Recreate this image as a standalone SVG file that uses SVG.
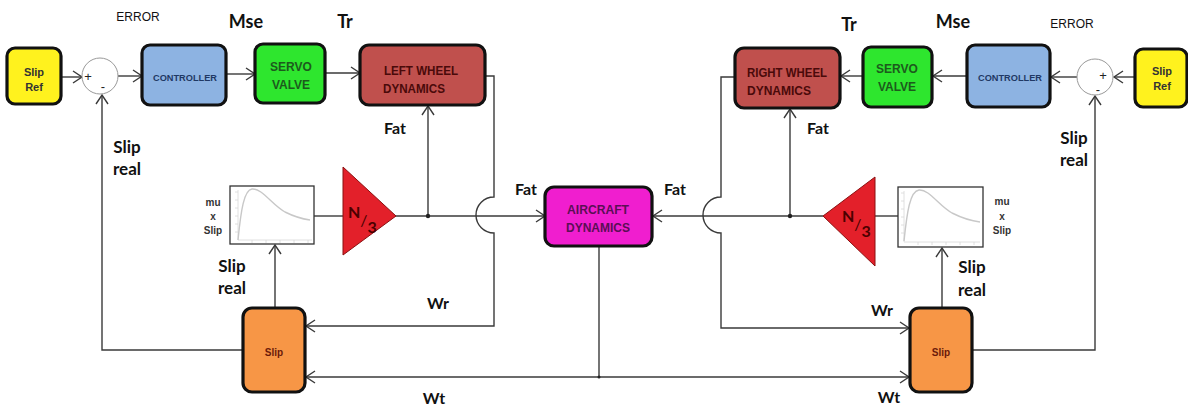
<svg xmlns="http://www.w3.org/2000/svg" width="1188" height="409" viewBox="0 0 1188 409">
<defs>
<style>
.blk{stroke:#111;stroke-width:3.2}
.ln{fill:none;stroke:#3a3a3a;stroke-width:1.4}
.lbl{font-family:Lato,"Open Sans","Liberation Sans",sans-serif;font-weight:bold;fill:#111}
.bt{font-family:"Liberation Sans",Arial,sans-serif;font-weight:bold;text-anchor:middle}
.tri{fill:#E3202A;stroke:#8a1010;stroke-width:1}
.nt{font-family:Lato,"Liberation Sans",sans-serif;font-weight:bold;fill:#4a0000}
.plot{fill:#fff;stroke:#333;stroke-width:1.3}
.curve{fill:none;stroke:#c8c8c8;stroke-width:1.4}
.ax{fill:none;stroke:#d8d8d8;stroke-width:0.8}
.dot{fill:#222}
</style>
<marker id="ar" markerUnits="userSpaceOnUse" markerWidth="12" markerHeight="14" refX="10" refY="7" orient="auto">
<path d="M1,1 L10,7 L1,13" fill="none" stroke="#3a3a3a" stroke-width="1.4"/>
</marker>
</defs>
<rect width="1188" height="409" fill="#fff"/>

<g id="connectors">
<path class="ln" d="M61,77 H82" marker-end="url(#ar)"/>
<path class="ln" d="M118,76 H142" marker-end="url(#ar)"/>
<path class="ln" d="M226,74 H255" marker-end="url(#ar)"/>
<path class="ln" d="M325,73 H360" marker-end="url(#ar)"/>
<path class="ln" d="M485,76 H494 V197 A18,18 0 0 0 494,233 V326 H306" marker-end="url(#ar)"/>
<path class="ln" d="M314,216 H343"/>
<path class="ln" d="M395,216 H545" marker-end="url(#ar)"/>
<path class="ln" d="M428,216 V106" marker-end="url(#ar)"/>
<path class="ln" d="M275,308 V245" marker-end="url(#ar)"/>
<path class="ln" d="M243,350 H102 V95" marker-end="url(#ar)"/>
<path class="ln" d="M599,246 V377"/>
<path class="ln" d="M599,377 H306" marker-end="url(#ar)"/>
<path class="ln" d="M599,377 H909" marker-end="url(#ar)"/>
<path class="ln" d="M823,216 H653" marker-end="url(#ar)"/>
<path class="ln" d="M875,216 H898"/>
<path class="ln" d="M790,216 V109" marker-end="url(#ar)"/>
<path class="ln" d="M735,77 H721 V197 A18,18 0 0 0 721,233 V328 H909" marker-end="url(#ar)"/>
<path class="ln" d="M942,308 V248" marker-end="url(#ar)"/>
<path class="ln" d="M972,350 H1095 V96" marker-end="url(#ar)"/>
<path class="ln" d="M1135,77 H1114" marker-end="url(#ar)"/>
<path class="ln" d="M1077,77 H1051" marker-end="url(#ar)"/>
<path class="ln" d="M967,76 H933" marker-end="url(#ar)"/>
<path class="ln" d="M863,76 H841" marker-end="url(#ar)"/>
<circle class="dot" cx="428" cy="216" r="2.2"/>
<circle class="dot" cx="790" cy="216" r="2.2"/>
<circle class="dot" cx="599" cy="377" r="1.5"/>
</g>

<g id="labels">
<text class="lbl" x="138" y="21" font-size="12" text-anchor="middle" style="font-weight:normal;font-family:'Liberation Sans',sans-serif">ERROR</text>
<text class="lbl" x="246" y="28" font-size="18" text-anchor="middle">Mse</text>
<text class="lbl" x="345" y="28" font-size="18" text-anchor="middle">Tr</text>
<text class="lbl" x="1072" y="28" font-size="12" text-anchor="middle" style="font-weight:normal;font-family:'Liberation Sans',sans-serif">ERROR</text>
<text class="lbl" x="953" y="28" font-size="18" text-anchor="middle">Mse</text>
<text class="lbl" x="849" y="31" font-size="18" text-anchor="middle">Tr</text>
<text class="lbl" x="395" y="134" font-size="16" text-anchor="middle">Fat</text>
<text class="lbl" x="818" y="134" font-size="16" text-anchor="middle">Fat</text>
<text class="lbl" x="526" y="195" font-size="16" text-anchor="middle">Fat</text>
<text class="lbl" x="675" y="195" font-size="16" text-anchor="middle">Fat</text>
<text class="lbl" x="127" y="153" font-size="17" text-anchor="middle">Slip</text>
<text class="lbl" x="127" y="175" font-size="17" text-anchor="middle">real</text>
<text class="lbl" x="232" y="272" font-size="17" text-anchor="middle">Slip</text>
<text class="lbl" x="232" y="294" font-size="17" text-anchor="middle">real</text>
<text class="lbl" x="1074" y="144" font-size="17" text-anchor="middle">Slip</text>
<text class="lbl" x="1074" y="166" font-size="17" text-anchor="middle">real</text>
<text class="lbl" x="972" y="273" font-size="17" text-anchor="middle">Slip</text>
<text class="lbl" x="972" y="296" font-size="17" text-anchor="middle">real</text>
<text class="lbl" x="438" y="309" font-size="16" text-anchor="middle">Wr</text>
<text class="lbl" x="434" y="404" font-size="16" text-anchor="middle">Wt</text>
<text class="lbl" x="882" y="316" font-size="16" text-anchor="middle">Wr</text>
<text class="lbl" x="889" y="403" font-size="16" text-anchor="middle">Wt</text>
</g>

<g id="slip-ref-left">
<rect class="blk" x="7" y="48" width="54" height="56" rx="8" fill="#FFF21E"/>
<text class="bt" x="34" y="76" font-size="11" fill="#333">Slip</text>
<text class="bt" x="34" y="91" font-size="11" fill="#333">Ref</text>
</g>
<g id="sum-left">
<circle cx="100" cy="76" r="18" fill="#fff" stroke="#999" stroke-width="1"/>
<text x="88" y="81" font-family="Liberation Sans,sans-serif" font-size="13" text-anchor="middle" fill="#222">+</text>
<text x="103" y="91" font-family="Liberation Sans,sans-serif" font-size="13" text-anchor="middle" fill="#222">-</text>
</g>
<g id="controller-left">
<rect class="blk" x="142" y="45" width="84" height="60" rx="8" fill="#8DB3E2"/>
<text class="bt" x="185" y="81" font-size="9.5" fill="#1F3864" textLength="64" lengthAdjust="spacingAndGlyphs">CONTROLLER</text>
</g>
<g id="servo-left">
<rect class="blk" x="255" y="44" width="70" height="59" rx="8" fill="#2EE62E"/>
<text class="bt" x="291" y="71" font-size="12" fill="#1d5a1d">SERVO</text>
<text class="bt" x="291" y="89" font-size="12" fill="#1d5a1d">VALVE</text>
</g>
<g id="left-wheel">
<rect class="blk" x="360" y="45" width="125" height="60" rx="9" fill="#C0504D"/>
<text class="bt" x="421" y="75" font-size="12" fill="#4a0a0a" textLength="74" lengthAdjust="spacingAndGlyphs">LEFT WHEEL</text>
<text class="bt" x="414" y="93" font-size="12" fill="#4a0a0a" textLength="62" lengthAdjust="spacingAndGlyphs">DYNAMICS</text>
</g>
<g id="mu-left">
<rect class="plot" x="230" y="186" width="84" height="58"/>
<path class="ax" d="M238,190 V240 H312 M235,192 H238 M235,200 H238 M235,208 H238 M235,216 H238 M235,224 H238 M235,232 H238 M252,240 V243 M266,240 V243 M280,240 V243 M294,240 V243 M308,240 V243"/>
<path class="curve" d="M238,240 C241,210 244,190 252,189 C262,188 272,205 285,212 C295,217 303,219 310,220"/>
<text class="bt" x="213" y="206" font-size="10" fill="#333">mu</text>
<text class="bt" x="213" y="220" font-size="10" fill="#333">x</text>
<text class="bt" x="213" y="234" font-size="10" fill="#333">Slip</text>
</g>
<g id="gain-left">
<polygon class="tri" points="343,167 396,216 343,255"/>
<text class="nt" x="348" y="218" font-size="16">N<tspan dy="8" font-size="16" font-weight="normal">/</tspan><tspan dy="7">3</tspan></text>
</g>
<g id="slip-left">
<rect class="blk" x="243" y="308" width="62" height="84" rx="9" fill="#F79646"/>
<text class="bt" x="274" y="356" font-size="10" fill="#6b1a0a">Slip</text>
</g>

<g id="aircraft">
<rect class="blk" x="545" y="187" width="107" height="59" rx="9" fill="#F01ECF"/>
<text class="bt" x="598" y="214" font-size="12" fill="#5a0f55" textLength="62" lengthAdjust="spacingAndGlyphs">AIRCRAFT</text>
<text class="bt" x="598" y="232" font-size="12" fill="#5a0f55" textLength="64" lengthAdjust="spacingAndGlyphs">DYNAMICS</text>
</g>

<g id="right-wheel">
<rect class="blk" x="735" y="48" width="105" height="60" rx="9" fill="#C0504D"/>
<text class="bt" x="787" y="77" font-size="12" fill="#4a0a0a" textLength="80" lengthAdjust="spacingAndGlyphs">RIGHT WHEEL</text>
<text class="bt" x="779" y="95" font-size="12" fill="#4a0a0a" textLength="64" lengthAdjust="spacingAndGlyphs">DYNAMICS</text>
</g>
<g id="servo-right">
<rect class="blk" x="863" y="47" width="69" height="60" rx="8" fill="#2EE62E"/>
<text class="bt" x="897" y="73" font-size="12" fill="#1d5a1d">SERVO</text>
<text class="bt" x="897" y="91" font-size="12" fill="#1d5a1d">VALVE</text>
</g>
<g id="controller-right">
<rect class="blk" x="967" y="45" width="83" height="62" rx="8" fill="#8DB3E2"/>
<text class="bt" x="1010" y="81" font-size="9.5" fill="#1F3864" textLength="64" lengthAdjust="spacingAndGlyphs">CONTROLLER</text>
</g>
<g id="sum-right">
<circle cx="1095" cy="77" r="18" fill="#fff" stroke="#999" stroke-width="1"/>
<text x="1103" y="80" font-family="Liberation Sans,sans-serif" font-size="13" text-anchor="middle" fill="#222">+</text>
<text x="1098" y="94" font-family="Liberation Sans,sans-serif" font-size="13" text-anchor="middle" fill="#222">-</text>
</g>
<g id="slip-ref-right">
<rect class="blk" x="1135" y="49" width="52" height="58" rx="8" fill="#FFF21E"/>
<text class="bt" x="1162" y="75" font-size="11" fill="#333">Slip</text>
<text class="bt" x="1162" y="90" font-size="11" fill="#333">Ref</text>
</g>
<g id="mu-right">
<rect class="plot" x="898" y="187" width="85" height="60"/>
<path class="ax" d="M904,191 V242 H980 M901,193 H904 M901,201 H904 M901,209 H904 M901,217 H904 M901,225 H904 M901,233 H904 M918,242 V245 M932,242 V245 M946,242 V245 M960,242 V245 M974,242 V245"/>
<path class="curve" d="M904,241 C907,212 910,191 919,190 C929,189 939,206 952,213 C962,218 972,221 980,222"/>
<text class="bt" x="1002" y="205" font-size="10" fill="#333">mu</text>
<text class="bt" x="1002" y="220" font-size="10" fill="#333">x</text>
<text class="bt" x="1002" y="234" font-size="10" fill="#333">Slip</text>
</g>
<g id="gain-right">
<polygon class="tri" points="875,177 823,216 875,266"/>
<text class="nt" x="842" y="222" font-size="16">N<tspan dy="8" font-size="16" font-weight="normal">/</tspan><tspan dy="7">3</tspan></text>
</g>
<g id="slip-right">
<rect class="blk" x="910" y="308" width="62" height="84" rx="9" fill="#F79646"/>
<text class="bt" x="941" y="356" font-size="10" fill="#6b1a0a">Slip</text>
</g>
</svg>
